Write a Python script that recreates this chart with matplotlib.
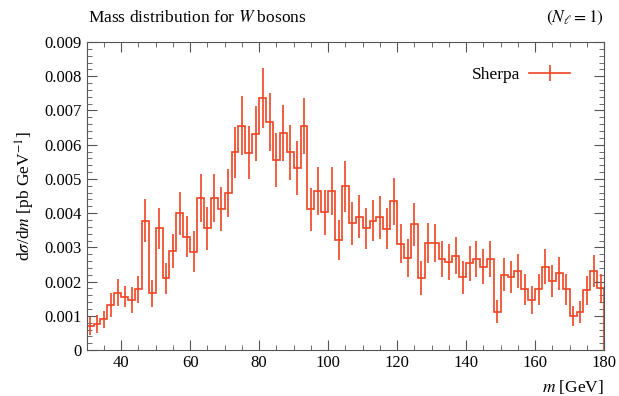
import numpy as np
import matplotlib
matplotlib.use("Agg")
import matplotlib.pyplot as plt
from matplotlib.ticker import MultipleLocator, FixedLocator
from matplotlib.lines import Line2D

plt.rcParams['font.family'] = ['Liberation Serif', 'DejaVu Serif']
plt.rcParams['mathtext.fontset'] = 'stix'

# bin edges (GeV)
bin_edges = np.arange(30, 182, 2)

# dsigma/dm values [pb/GeV]
values = [
    0.00071, 0.00076, 0.00090, 0.00132, 0.00168, 0.00156, 0.00146, 0.00177,
    0.00378, 0.00166, 0.00356, 0.00210, 0.00290, 0.00400, 0.00331, 0.00287,
    0.00443, 0.00356, 0.00443, 0.00412, 0.00458, 0.00578, 0.00656, 0.00577,
    0.00632, 0.00736, 0.00666, 0.00555, 0.00634, 0.00578, 0.00532, 0.00655,
    0.00411, 0.00466, 0.00402, 0.00466, 0.00322, 0.00478, 0.00370, 0.00390,
    0.00356, 0.00378, 0.00388, 0.00354, 0.00434, 0.00311, 0.00268, 0.00367,
    0.00210, 0.00312, 0.00312, 0.00266, 0.00258, 0.00275, 0.00213, 0.00253,
    0.00265, 0.00244, 0.00265, 0.00112, 0.00220, 0.00213, 0.00232, 0.00177,
    0.00146, 0.00177, 0.00244, 0.00202, 0.00224, 0.00177, 0.00099, 0.00112,
    0.00175, 0.00231, 0.00180,
]

# symmetric errors
errors = [
    0.00027, 0.00027, 0.00025, 0.00035, 0.00040, 0.00030, 0.00037, 0.00040,
    0.00062, 0.00040, 0.00060, 0.00045, 0.00050, 0.00063, 0.00060, 0.00060,
    0.00070, 0.00063, 0.00070, 0.00065, 0.00070, 0.00075, 0.00085, 0.00078,
    0.00080, 0.00088, 0.00085, 0.00078, 0.00083, 0.00080, 0.00078, 0.00082,
    0.00063, 0.00070, 0.00066, 0.00070, 0.00058, 0.00075, 0.00063, 0.00063,
    0.00060, 0.00060, 0.00063, 0.00060, 0.00068, 0.00058, 0.00055, 0.00063,
    0.00050, 0.00058, 0.00056, 0.00054, 0.00052, 0.00054, 0.00048, 0.00052,
    0.00053, 0.00050, 0.00053, 0.00034, 0.00048, 0.00047, 0.00050, 0.00044,
    0.00040, 0.00044, 0.00050, 0.00046, 0.00048, 0.00044, 0.00030, 0.00032,
    0.00042, 0.00048, 0.00042,
]

x_ticks = [40, 60, 80, 100, 120, 140, 160, 180]
y_ticks = [0, 0.001, 0.002, 0.003, 0.004, 0.005, 0.006, 0.007, 0.008, 0.009]
y_ticklabels = ['0', '0.001', '0.002', '0.003', '0.004', '0.005', '0.006',
                '0.007', '0.008', '0.009']

color = '#EE4422'

fig = plt.figure(figsize=(6.19, 3.96), dpi=100)
ax = fig.add_axes([0.140, 0.116, 0.836, 0.778])

edges = np.asarray(bin_edges, dtype=float)
vals = np.asarray(values)
errs = np.asarray(errors)
centers = 0.5 * (edges[:-1] + edges[1:])

ax.stairs(vals, edges, color=color, lw=1.2)
ax.errorbar(centers, vals, yerr=errs, fmt='none', ecolor=color, elinewidth=1.2,
            capsize=0)

ax.set_xlim(30, 180)
ax.set_ylim(0, 0.009)
ax.xaxis.set_major_locator(FixedLocator(x_ticks))
ax.xaxis.set_minor_locator(MultipleLocator(5))
ax.yaxis.set_major_locator(FixedLocator(y_ticks))
ax.set_yticklabels(y_ticklabels)
ax.yaxis.set_minor_locator(MultipleLocator(0.0002))
ax.tick_params(which='both', direction='in', top=True, right=True,
               labelsize=12, color='#555555')
ax.tick_params(which='major', length=7, width=0.8)
ax.tick_params(which='minor', length=3.5, width=0.6)
for s in ax.spines.values():
    s.set_linewidth(0.8)
    s.set_color('#555555')

ax.set_xlabel(r'$m$ [GeV]', fontsize=12.5, loc='right', labelpad=5)
ax.set_ylabel(r'd$\sigma$/d$m$ [pb GeV$^{-1}$]', fontsize=12.5, labelpad=5)

fig.text(0.142, 0.955, r'Mass distribution for $W$ bosons', fontsize=12.5,
         ha='left', va='center')
fig.text(0.976, 0.955, r'$(N_\ell = 1)$', fontsize=12.5, ha='right', va='center')

handle = Line2D([0], [0], color=color, lw=1.2, marker='|', markersize=12,
                markeredgewidth=1.2)
leg = ax.legend([handle], ['Sherpa'], loc='upper right', frameon=False,
                fontsize=12.5, markerfirst=False, handlelength=2.4,
                handletextpad=0.5, bbox_to_anchor=(0.965, 0.97))

fig.savefig('out.png', dpi=100)
